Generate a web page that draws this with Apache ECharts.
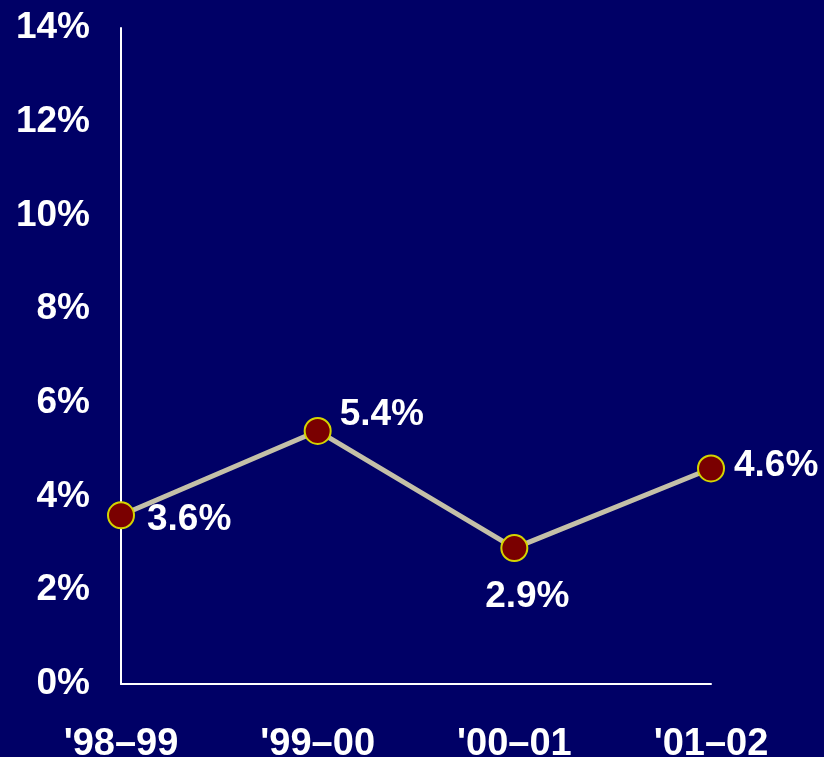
<!DOCTYPE html>
<html>
<head>
<meta charset="utf-8">
<script src="https://cdn.jsdelivr.net/npm/echarts@6/dist/echarts.min.js"></script>
<style>html,body{margin:0;padding:0;background:#000066;}#c{width:824px;height:757px;}</style>
</head>
<body>
<div id="c"></div>
<script>
var categories = ["'98\u201399", "'99\u201300", "'00\u201301", "'01\u201302"];
var values = [3.6, 5.4, 2.9, 4.6];
var labelPositions = ['right', 'right', 'bottom', 'right'];
var yTicks = [0, 2, 4, 6, 8, 10, 12, 14];

var chart = echarts.init(document.getElementById('c'));
var font = '"Liberation Sans", Arial, sans-serif';
chart.setOption({
  backgroundColor: '#000066',
  animation: false,
  grid: { left: 121, right: 113, top: 28, bottom: 73, outerBoundsMode: 'none', containLabel: false },
  xAxis: {
    type: 'category',
    data: categories,
    boundaryGap: false,
    axisLine: { lineStyle: { color: '#ffffff', width: 2 } },
    axisTick: { show: false },
    axisLabel: { color: '#ffffff', fontFamily: font, fontWeight: 'bold', fontSize: 38, margin: 42, interval: 0 },
    splitLine: { show: false }
  },
  yAxis: {
    type: 'value',
    min: 0, max: 14, interval: 2,
    axisLine: { show: true, lineStyle: { color: '#ffffff', width: 2 } },
    axisTick: { show: false },
    splitLine: { show: false },
    axisLabel: { color: '#ffffff', fontFamily: font, fontWeight: 'bold', fontSize: 37, margin: 31,
      formatter: function (v) { return v + '%'; } }
  },
  series: [{
    type: 'line',
    data: values.map(function (v, i) {
      var pos = labelPositions[i];
      var lbl = { position: pos, distance: pos === 'bottom' ? 16 : 12 };
      if (i === 0) { lbl.offset = [0, 4]; }
      if (i === 1) { lbl.offset = [-4, -16]; }
      if (i === 2) { lbl.offset = [13, 0]; }
      if (i === 3) { lbl.offset = [-3, -3]; }
      return { value: v, label: lbl };
    }),
    symbol: 'circle',
    symbolSize: 26,
    lineStyle: { color: '#c4c0a8', width: 5 },
    itemStyle: { color: '#7a0000', borderColor: '#d4d400', borderWidth: 2 },
    label: {
      show: true, color: '#ffffff', fontFamily: font, fontWeight: 'bold', fontSize: 37,
      formatter: function (p) { return p.value.toFixed(1) + '%'; }
    }
  }]
});
</script>
</body>
</html>
